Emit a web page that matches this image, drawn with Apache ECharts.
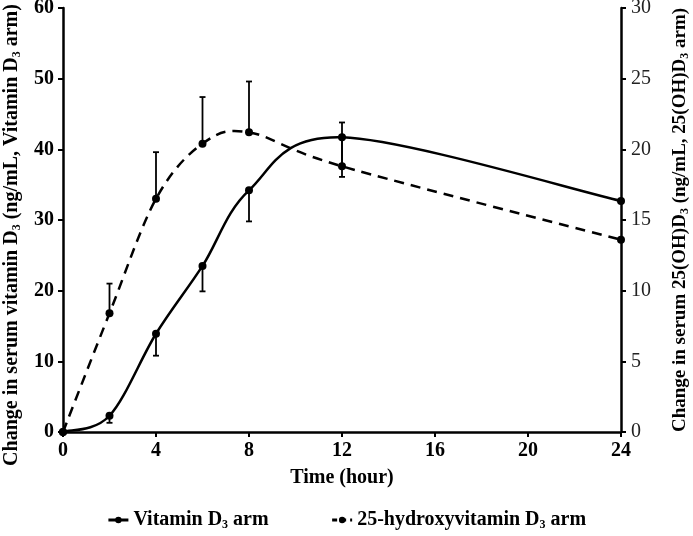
<!DOCTYPE html>
<html>
<head>
<meta charset="utf-8">
<script src="https://cdn.jsdelivr.net/npm/echarts@6/dist/echarts.min.js"></script>
<style>html,body{margin:0;padding:0;background:#fff}#c{width:693px;height:536px}</style>
</head>
<body>
<div id="c"></div>
<script>
// Data
const timeHours = [0, 2, 4, 6, 8, 12, 24];
const vitD3Arm = [0, 2.3, 13.9, 23.5, 34.2, 41.7, 32.7];      // left axis
const vitD3ArmErr = [0, 1.0, 3.1, 3.6, 4.4, 5.6, 0];           // drawn downward
const ohD3Arm = [0, 8.4, 16.5, 20.4, 21.2, 18.8, 13.6];        // right axis
const ohD3ArmErr = [0, 2.1, 3.3, 3.3, 3.6, 3.1, 0];            // drawn upward
const xTicks = [0, 4, 8, 12, 16, 20, 24];

const FONT = '"Liberation Serif", "DejaVu Serif", serif';
function rich(size) {
  return {
    b: {fontFamily: FONT, fontWeight: 'bold', fontSize: size, color: '#000', lineHeight: size + 2},
    s: {fontFamily: FONT, fontWeight: 'bold', fontSize: Math.round(size * 0.62), color: '#000', verticalAlign: 'bottom', lineHeight: size + 2}
  };
}

const solidLine = timeHours.map((t, i) => [t, vitD3Arm[i]]);
const dashLine = timeHours.map((t, i) => [t, ohD3Arm[i]]);
const solidErr = timeHours.map((t, i) => [t, vitD3Arm[i], vitD3Arm[i] - vitD3ArmErr[i]]).filter((d, i) => vitD3ArmErr[i] > 0);
const dashErr = timeHours.map((t, i) => [t, ohD3Arm[i], ohD3Arm[i] + ohD3ArmErr[i]]).filter((d, i) => ohD3ArmErr[i] > 0);

function errRender(params, api) {
  const x = api.value(0), a = api.value(1), b = api.value(2);
  const p1 = api.coord([x, a]), p2 = api.coord([x, b]);
  const cap = 3;
  const style = {stroke: '#000', lineWidth: 1.8};
  return {type: 'group', children: [
    {type: 'line', shape: {x1: p1[0], y1: p1[1], x2: p2[0], y2: p2[1]}, style: style},
    {type: 'line', shape: {x1: p2[0] - cap, y1: p2[1], x2: p2[0] + cap, y2: p2[1]}, style: style}
  ]};
}

// Smoothed (Catmull-Rom style, like spreadsheet "smoothed line") curve through the series points,
// positioned by the library's coordinate system (api.coord).
function curveRender(xs, ys, dash) {
  return function (params, api) {
    if (params.dataIndex !== 0) return null;
    const P = xs.map((x, i) => api.coord([x, ys[i]]));
    const n = P.length;
    let d = 'M' + P[0][0] + ' ' + P[0][1];
    for (let i = 0; i < n - 1; i++) {
      const p0 = P[Math.max(i - 1, 0)], p1 = P[i], p2 = P[i + 1], p3 = P[Math.min(i + 2, n - 1)];
      const c1x = p1[0] + (p2[0] - p0[0]) / 6, c1y = p1[1] + (p2[1] - p0[1]) / 6;
      const c2x = p2[0] - (p3[0] - p1[0]) / 6, c2y = p2[1] - (p3[1] - p1[1]) / 6;
      d += ' C' + c1x + ' ' + c1y + ' ' + c2x + ' ' + c2y + ' ' + p2[0] + ' ' + p2[1];
    }
    return {
      type: 'path', shape: {pathData: d},
      style: {fill: null, stroke: '#000', lineWidth: 2.5, lineDash: dash, lineCap: 'butt', lineJoin: 'round'}
    };
  };
}

const chart = echarts.init(document.getElementById('c'), null, {renderer: 'canvas'});
chart.setOption({
  animation: false,
  backgroundColor: '#fff',
  grid: {left: 63, right: 72, top: 8, bottom: 104, containLabel: false, outerBoundsMode: 'none'},
  legend: {
    bottom: 0, left: 'center', itemGap: 62, itemWidth: 20, itemHeight: 8,
    data: [
      {name: 'Vitamin D3 arm', lineStyle: {color: '#000', width: 3, type: 'solid', opacity: 1}},
      {name: '25-hydroxyvitamin D3 arm', lineStyle: {color: '#000', width: 3, type: [5, 4], opacity: 1}}
    ],
    formatter: function (name) {
      return name === 'Vitamin D3 arm'
        ? '{b|Vitamin D}{s|3}{b| arm}'
        : '{b|25-hydroxyvitamin D}{s|3}{b| arm}';
    },
    textStyle: {rich: rich(20)}
  },
  xAxis: {
    type: 'value', min: 0, max: 24, interval: 4,
    name: 'Time (hour)', nameLocation: 'middle', nameGap: 36,
    nameTextStyle: {fontFamily: FONT, fontWeight: 'bold', fontSize: 20, color: '#000'},
    axisLine: {lineStyle: {color: '#000', width: 2.5}},
    axisTick: {show: true, length: 5, lineStyle: {color: '#000', width: 2}},
    axisLabel: {fontFamily: FONT, fontWeight: 'bold', fontSize: 20, color: '#000', margin: 9,
      customValues: xTicks},
    splitLine: {show: false}
  },
  yAxis: [{
    type: 'value', min: 0, max: 60, interval: 10, position: 'left',
    name: '{b|Change in serum vitamin D}{s|3}{b| (ng/mL, Vitamin D}{s|3}{b| arm)}',
    nameLocation: 'middle', nameRotate: 90, nameGap: 40,
    nameTextStyle: {rich: rich(20), padding: [0, 30, 0, 0]},
    axisLine: {show: true, lineStyle: {color: '#000', width: 2.5}},
    axisTick: {show: true, length: 5, lineStyle: {color: '#000', width: 2}},
    axisLabel: {fontFamily: FONT, fontWeight: 'bold', fontSize: 20, color: '#000', margin: 9},
    splitLine: {show: false}
  }, {
    type: 'value', min: 0, max: 30, interval: 5, position: 'right',
    name: '{b|Change in serum 25(OH)D}{s|3}{b| (ng/mL, 25(OH)D}{s|3}{b| arm)}',
    nameLocation: 'middle', nameRotate: 90, nameGap: 49,
    nameTextStyle: {rich: rich(19)},
    axisLine: {show: true, lineStyle: {color: '#000', width: 2.5}},
    axisTick: {show: true, length: 5, lineStyle: {color: '#000', width: 2}},
    axisLabel: {fontFamily: FONT, fontWeight: 'normal', fontSize: 20, color: '#222', margin: 10},
    splitLine: {show: false}
  }],
  series: [{
    name: 'Vitamin D3 arm', type: 'line', yAxisIndex: 0, data: solidLine,
    symbol: 'circle', symbolSize: 8, z: 4,
    lineStyle: {color: '#000', width: 2.5, opacity: 0},
    itemStyle: {color: '#000'}
  }, {
    name: '25-hydroxyvitamin D3 arm', type: 'line', yAxisIndex: 1, data: dashLine,
    symbol: 'circle', symbolSize: 8, z: 4,
    lineStyle: {color: '#000', width: 2.5, opacity: 0},
    itemStyle: {color: '#000'}
  }, {
    type: 'custom', yAxisIndex: 0, data: solidLine, renderItem: curveRender(timeHours, vitD3Arm, null),
    encode: {x: 0, y: 1}, z: 3, silent: true
  }, {
    type: 'custom', yAxisIndex: 1, data: dashLine, renderItem: curveRender(timeHours, ohD3Arm, [10, 7]),
    encode: {x: 0, y: 1}, z: 3, silent: true
  }, {
    type: 'custom', yAxisIndex: 0, data: solidErr, renderItem: errRender,
    encode: {x: 0, y: [1, 2]}, z: 2, silent: true
  }, {
    type: 'custom', yAxisIndex: 1, data: dashErr, renderItem: errRender,
    encode: {x: 0, y: [1, 2]}, z: 2, silent: true
  }]
});
</script>
</body>
</html>
